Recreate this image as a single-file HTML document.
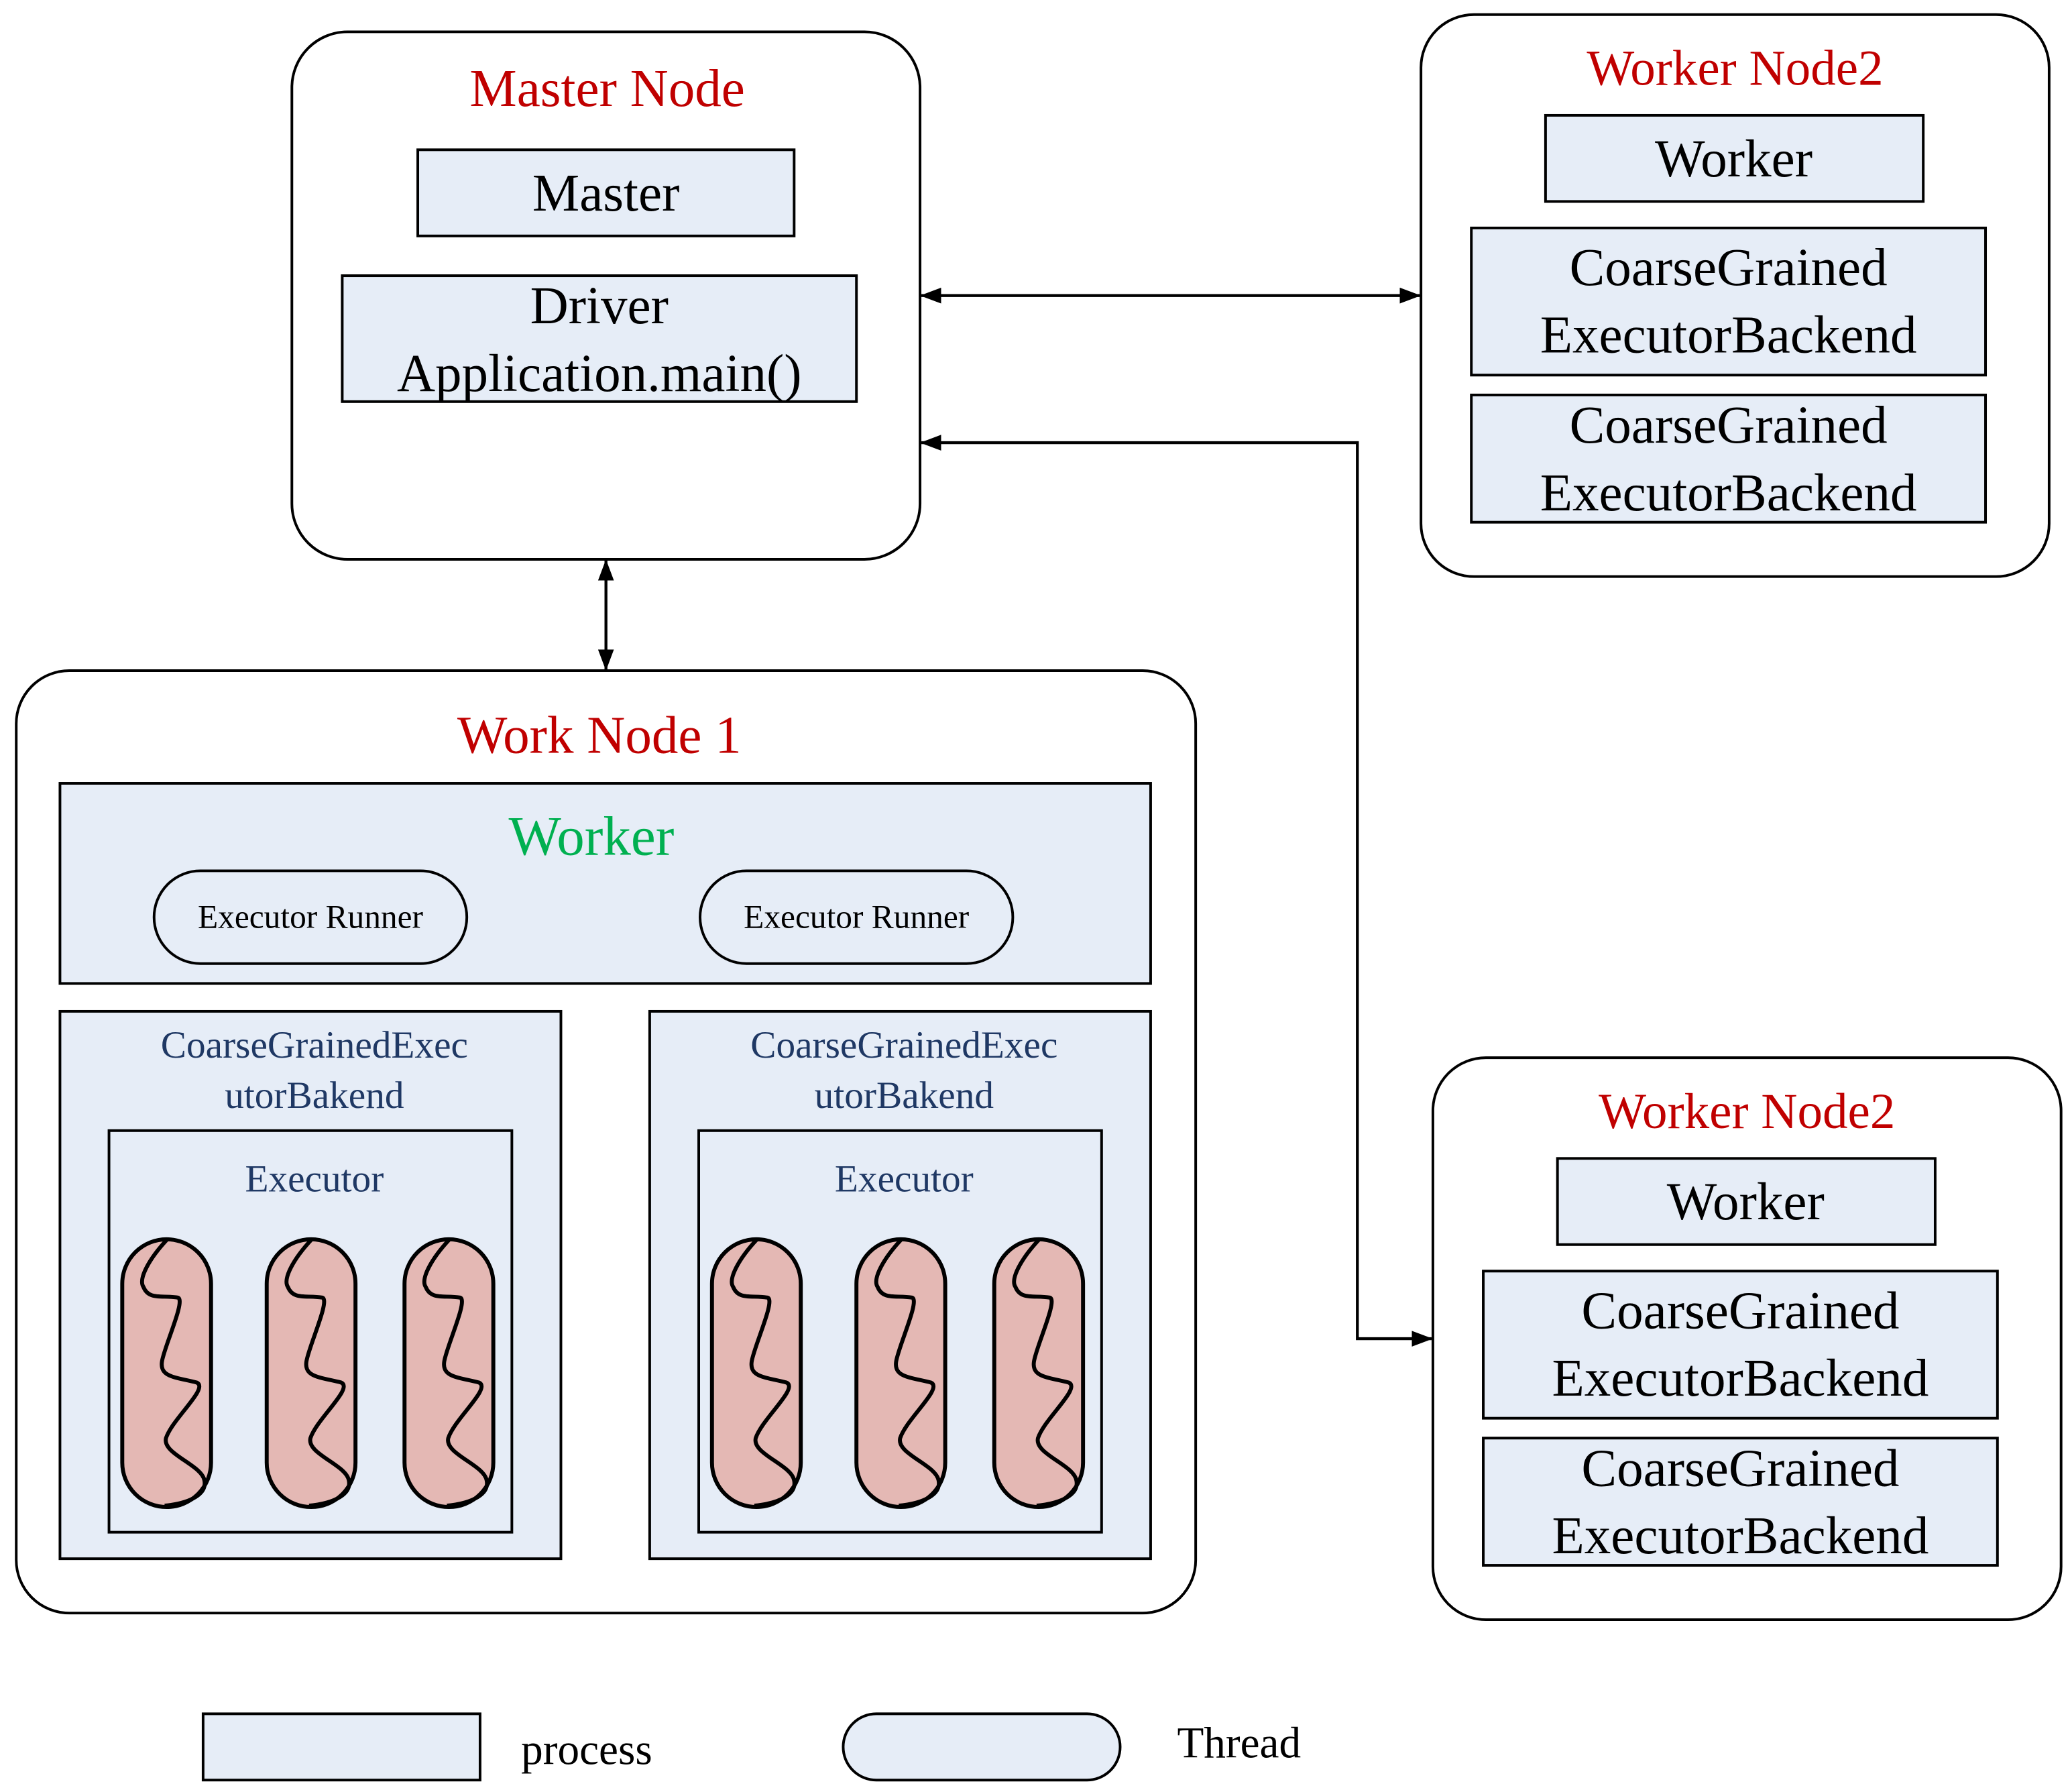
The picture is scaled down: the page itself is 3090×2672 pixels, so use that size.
<!DOCTYPE html>
<html><head><meta charset="utf-8"><style>
html,body{margin:0;padding:0;background:#fff;}
svg{display:block;}
text{font-family:"Liberation Serif",serif;}
</style></head><body>
<svg width="3090" height="2672" viewBox="0 0 1563 1352" xmlns="http://www.w3.org/2000/svg">
<defs>
<marker id="ah" markerWidth="16" markerHeight="12" refX="15" refY="6" orient="auto-start-reverse" markerUnits="userSpaceOnUse" viewBox="0 0 16 12">
<path d="M0,0 L16,6 L0,12 z" fill="#000"/></marker>
<g id="thr">
<rect x="0" y="0" width="67" height="202" rx="33.5" fill="#e4b8b4" stroke="#000" stroke-width="3"/>
<path d="M34,0 C20,15 12,30 16,36 C20,46 30,42 42,44 C48,46 32,80 30,92 C28,104 40,104 56,108 C66,112 38,135 33,150 C30,162 60,170 62,182 C64,192 52,199 32,201" fill="none" stroke="#000" stroke-width="3"/>
</g>
<g id="wn2">
<rect x="1072" y="11" width="474" height="424" rx="40" fill="#fff" stroke="#000" stroke-width="2"/>
<text x="1309" y="64" font-size="38" fill="#c00000" text-anchor="middle">Worker Node2</text>
<rect x="1166" y="87" width="285" height="65" fill="#e6edf7" stroke="#000" stroke-width="2"/>
<text x="1308" y="133" font-size="40" text-anchor="middle">Worker</text>
<rect x="1110" y="172" width="388" height="111" fill="#e6edf7" stroke="#000" stroke-width="2"/>
<text x="1304" y="215" font-size="40" text-anchor="middle">CoarseGrained</text>
<text x="1304" y="266" font-size="40" text-anchor="middle">ExecutorBackend</text>
<rect x="1110" y="298" width="388" height="96" fill="#e6edf7" stroke="#000" stroke-width="2"/>
<text x="1304" y="334" font-size="40" text-anchor="middle">CoarseGrained</text>
<text x="1304" y="385" font-size="40" text-anchor="middle">ExecutorBackend</text>
</g>
</defs>

<rect x="220" y="24" width="474" height="398" rx="42" fill="#fff" stroke="#000" stroke-width="2"/>
<text x="458" y="80" font-size="40" fill="#c00000" text-anchor="middle">Master Node</text>
<rect x="315" y="113" width="284" height="65" fill="#e6edf7" stroke="#000" stroke-width="2"/>
<text x="457" y="159" font-size="40" text-anchor="middle">Master</text>
<rect x="258" y="208" width="388" height="95" fill="#e6edf7" stroke="#000" stroke-width="2"/>
<text x="452" y="244" font-size="40" text-anchor="middle">Driver</text>
<text x="452" y="295" font-size="40" text-anchor="middle">Application.main()</text>

<use href="#wn2"/>
<use href="#wn2" transform="translate(9,787)"/>

<line x1="695" y1="223" x2="1071" y2="223" stroke="#000" stroke-width="2.2" marker-start="url(#ah)" marker-end="url(#ah)"/>
<polyline points="695,334 1024,334 1024,1010 1080,1010" fill="none" stroke="#000" stroke-width="2.2" marker-start="url(#ah)" marker-end="url(#ah)"/>
<line x1="457" y1="423" x2="457" y2="505" stroke="#000" stroke-width="2.2" marker-start="url(#ah)" marker-end="url(#ah)"/>

<rect x="12" y="506" width="890" height="711" rx="40" fill="#fff" stroke="#000" stroke-width="2"/>
<text x="452" y="568" font-size="40" fill="#c00000" text-anchor="middle">Work Node 1</text>
<rect x="45" y="591" width="823" height="151" fill="#e6edf7" stroke="#000" stroke-width="2"/>
<text x="446" y="645" font-size="42" fill="#00b050" text-anchor="middle">Worker</text>
<rect x="116" y="657" width="236" height="70" rx="35" fill="#e6edf7" stroke="#000" stroke-width="2"/>
<text x="234" y="700" font-size="25" text-anchor="middle">Executor Runner</text>
<rect x="528" y="657" width="236" height="70" rx="35" fill="#e6edf7" stroke="#000" stroke-width="2"/>
<text x="646" y="700" font-size="25" text-anchor="middle">Executor Runner</text>

<rect x="45" y="763" width="378" height="413" fill="#e6edf7" stroke="#000" stroke-width="2"/>
<text x="237" y="798" font-size="29" fill="#1f3864" text-anchor="middle">CoarseGrainedExec</text>
<text x="237" y="836" font-size="29" fill="#1f3864" text-anchor="middle">utorBakend</text>
<rect x="82" y="853" width="304" height="303" fill="#e6edf7" stroke="#000" stroke-width="2"/>
<text x="237" y="899" font-size="29" fill="#1f3864" text-anchor="middle">Executor</text>
<use href="#thr" transform="translate(92,935)"/>
<use href="#thr" transform="translate(201,935)"/>
<use href="#thr" transform="translate(305,935)"/>

<rect x="490" y="763" width="378" height="413" fill="#e6edf7" stroke="#000" stroke-width="2"/>
<text x="682" y="798" font-size="29" fill="#1f3864" text-anchor="middle">CoarseGrainedExec</text>
<text x="682" y="836" font-size="29" fill="#1f3864" text-anchor="middle">utorBakend</text>
<rect x="527" y="853" width="304" height="303" fill="#e6edf7" stroke="#000" stroke-width="2"/>
<text x="682" y="899" font-size="29" fill="#1f3864" text-anchor="middle">Executor</text>
<use href="#thr" transform="translate(537,935)"/>
<use href="#thr" transform="translate(646,935)"/>
<use href="#thr" transform="translate(750,935)"/>

<rect x="153" y="1293" width="209" height="50" fill="#e6edf7" stroke="#000" stroke-width="2"/>
<text x="393" y="1331" font-size="33">process</text>
<rect x="636" y="1293" width="209" height="50" rx="25" fill="#e6edf7" stroke="#000" stroke-width="2"/>
<text x="888" y="1326" font-size="33">Thread</text>
</svg>
</body></html>
